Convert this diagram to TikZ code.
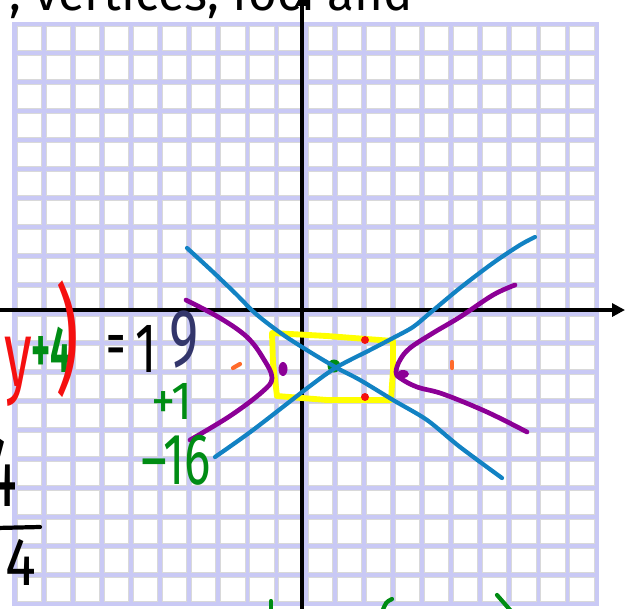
\documentclass[tikz,border=0pt]{standalone}
\usepackage{fontspec}
\setmainfont{Fira Sans}
\usepackage{xcolor}
\usepackage{graphicx}
\usepackage{tikz}
\usetikzlibrary{arrows.meta}
\definecolor{ink}{HTML}{000000}
\definecolor{lav}{HTML}{C9C9F5}
\definecolor{rim}{HTML}{D9D9D9}
\definecolor{skyline}{HTML}{1282C3}
\definecolor{purp}{HTML}{8C0096}
\definecolor{boxyel}{HTML}{FFFF00}
\definecolor{work}{HTML}{008C14}
\definecolor{redink}{HTML}{F51010}
\definecolor{focus}{HTML}{FF6B2B}
\definecolor{navy}{HTML}{33366B}
\newcommand{\slim}[2][.6]{\scalebox{#1}[1]{#2}}

\tikzset{
  cell/.style={fill=white, draw=rim, line width=0.6pt},
  axisline/.style={ink, line width=3.8pt},
  asym/.style={skyline, line width=3.6pt, line cap=round, line join=round},
  branch/.style={purp, line width=4pt, line cap=round, line join=round},
  pen/.style={line width=3.6pt, line cap=round},
  hand/.style={font=\fontsize{#1}{#1}\selectfont, inner sep=0pt},
}

\begin{document}
\begin{tikzpicture}[x=0.03cm, y=-0.03cm, >={Triangle[length=11pt, width=11pt]}]
    % Page frame: only this window of the board shows.
    \useasboundingbox (0,0) rectangle (629,608);
    \clip (0,0) rectangle (629,608);
    % Squared paper, 20 by 20 cells on a lavender ground.
    \fill[lav] (12.1,21.6) rectangle (598.9,606.4);
    \foreach \i in {0,...,19} {
      \foreach \j in {0,...,19} {
        \filldraw[cell] ({14.5+29.1*\i+2.4},{24+29*\j+2.4}) rectangle ({14.5+29.1*(\i+1)-2.4},{24+29*(\j+1)-2.4});
      }
    }
    % Line of the task above the paper, cut by the edge.
    \node[hand=42pt, ink, anchor=base west] (task) at (9,10) {; vertices, foci and};
    % Axes.
    \draw[axisline, ->] (0,310) -- (625,310);
    \draw[axisline, ->] (302,615) -- (302,-7);
    % Box round the centre, with the co-vertices.
    \draw[boxyel, line width=5pt, line join=round] (272,333) -- (327,336) -- (393,341) -- (393,370) -- (391,400) -- (327,400) -- (277,396) -- (273,363) -- cycle;
    \fill[redink] (365,340) circle[radius=4];
    \fill[redink] (365,397) circle[radius=4];
    \fill[work] (334,366) circle[radius=6.5];
    % Asymptotes through the corners of the box.
    \draw[asym] plot[smooth, tension=.5] coordinates {(187,248) (212,271) (236,294) (256,314) (282,334) (310,352) (337,368) (360,380) (393,400) (427,420) (460,447) (502,478)};
    \draw[asym] plot[smooth, tension=.5] coordinates {(215,457) (253,430) (310,386) (337,367) (370,350) (393,338) (413,327) (430,313) (460,288) (493,263) (520,245) (535,237)};
    % The two branches and their vertices.
    \draw[branch] plot[smooth, tension=.6] coordinates {(186,300) (220,318) (247,337) (263,358) (272,378) (262,392) (230,416) (190,440)};
    \draw[branch] plot[smooth, tension=.6] coordinates {(515,285) (493,295) (460,317) (433,333) (410,348) (400,360) (396,372) (400,378) (417,387) (443,394) (487,412) (527,432)};
    \fill[purp] (283,369) ellipse[x radius=4.5, y radius=7];
    \fill[purp] (403,374) ellipse[x radius=6, y radius=4];
    % Foci.
    \draw[focus, pen] (452,362) -- (452,368);
    \draw[focus, pen] (233,368) -- (240,364);
    % Working on the left.
    \node[hand=80pt, redink] (ysym) at (18.5,372) {\slim{y}};
    \node[hand=56pt, work] (plusfour) at (51,350) {\bfseries\slim[.55]{+4}};
    \node[hand=48pt, redink] (rparen) at (67,339) {\scalebox{1.3}[2.1]{)}};
    \node[hand=55pt, ink] (eqsign) at (116,350) {\slim{=}};
    \node[hand=60pt, ink] (one) at (146,349) {\slim[.7]{1}};
    \node[hand=70pt, navy] (nine) at (184,340) {\slim[.68]{9}};
    \node[hand=46pt, work] (plusone) at (172,401) {\slim[.9]{+1}};
    \node[hand=62pt, work] (minussixteen) at (176,460) {\slim[.68]{--16}};
    \node[hand=85pt, ink] (numtail) at (1.5,472.5) {\slim{4}};
    \draw[ink, pen] (-4,528) -- (40,527);
    \node[hand=58pt, ink] (denom) at (21,562) {\slim[.85]{4}};
    % Tops of the next line, cut by the bottom edge.
    \draw[work, pen] (271,601) -- (271,612);
    \draw[work, pen] (392,599) .. controls (386,602) .. (382,612);
    \draw[work, pen] (497,595) -- (511,611);
  \end{tikzpicture}
\end{document}
